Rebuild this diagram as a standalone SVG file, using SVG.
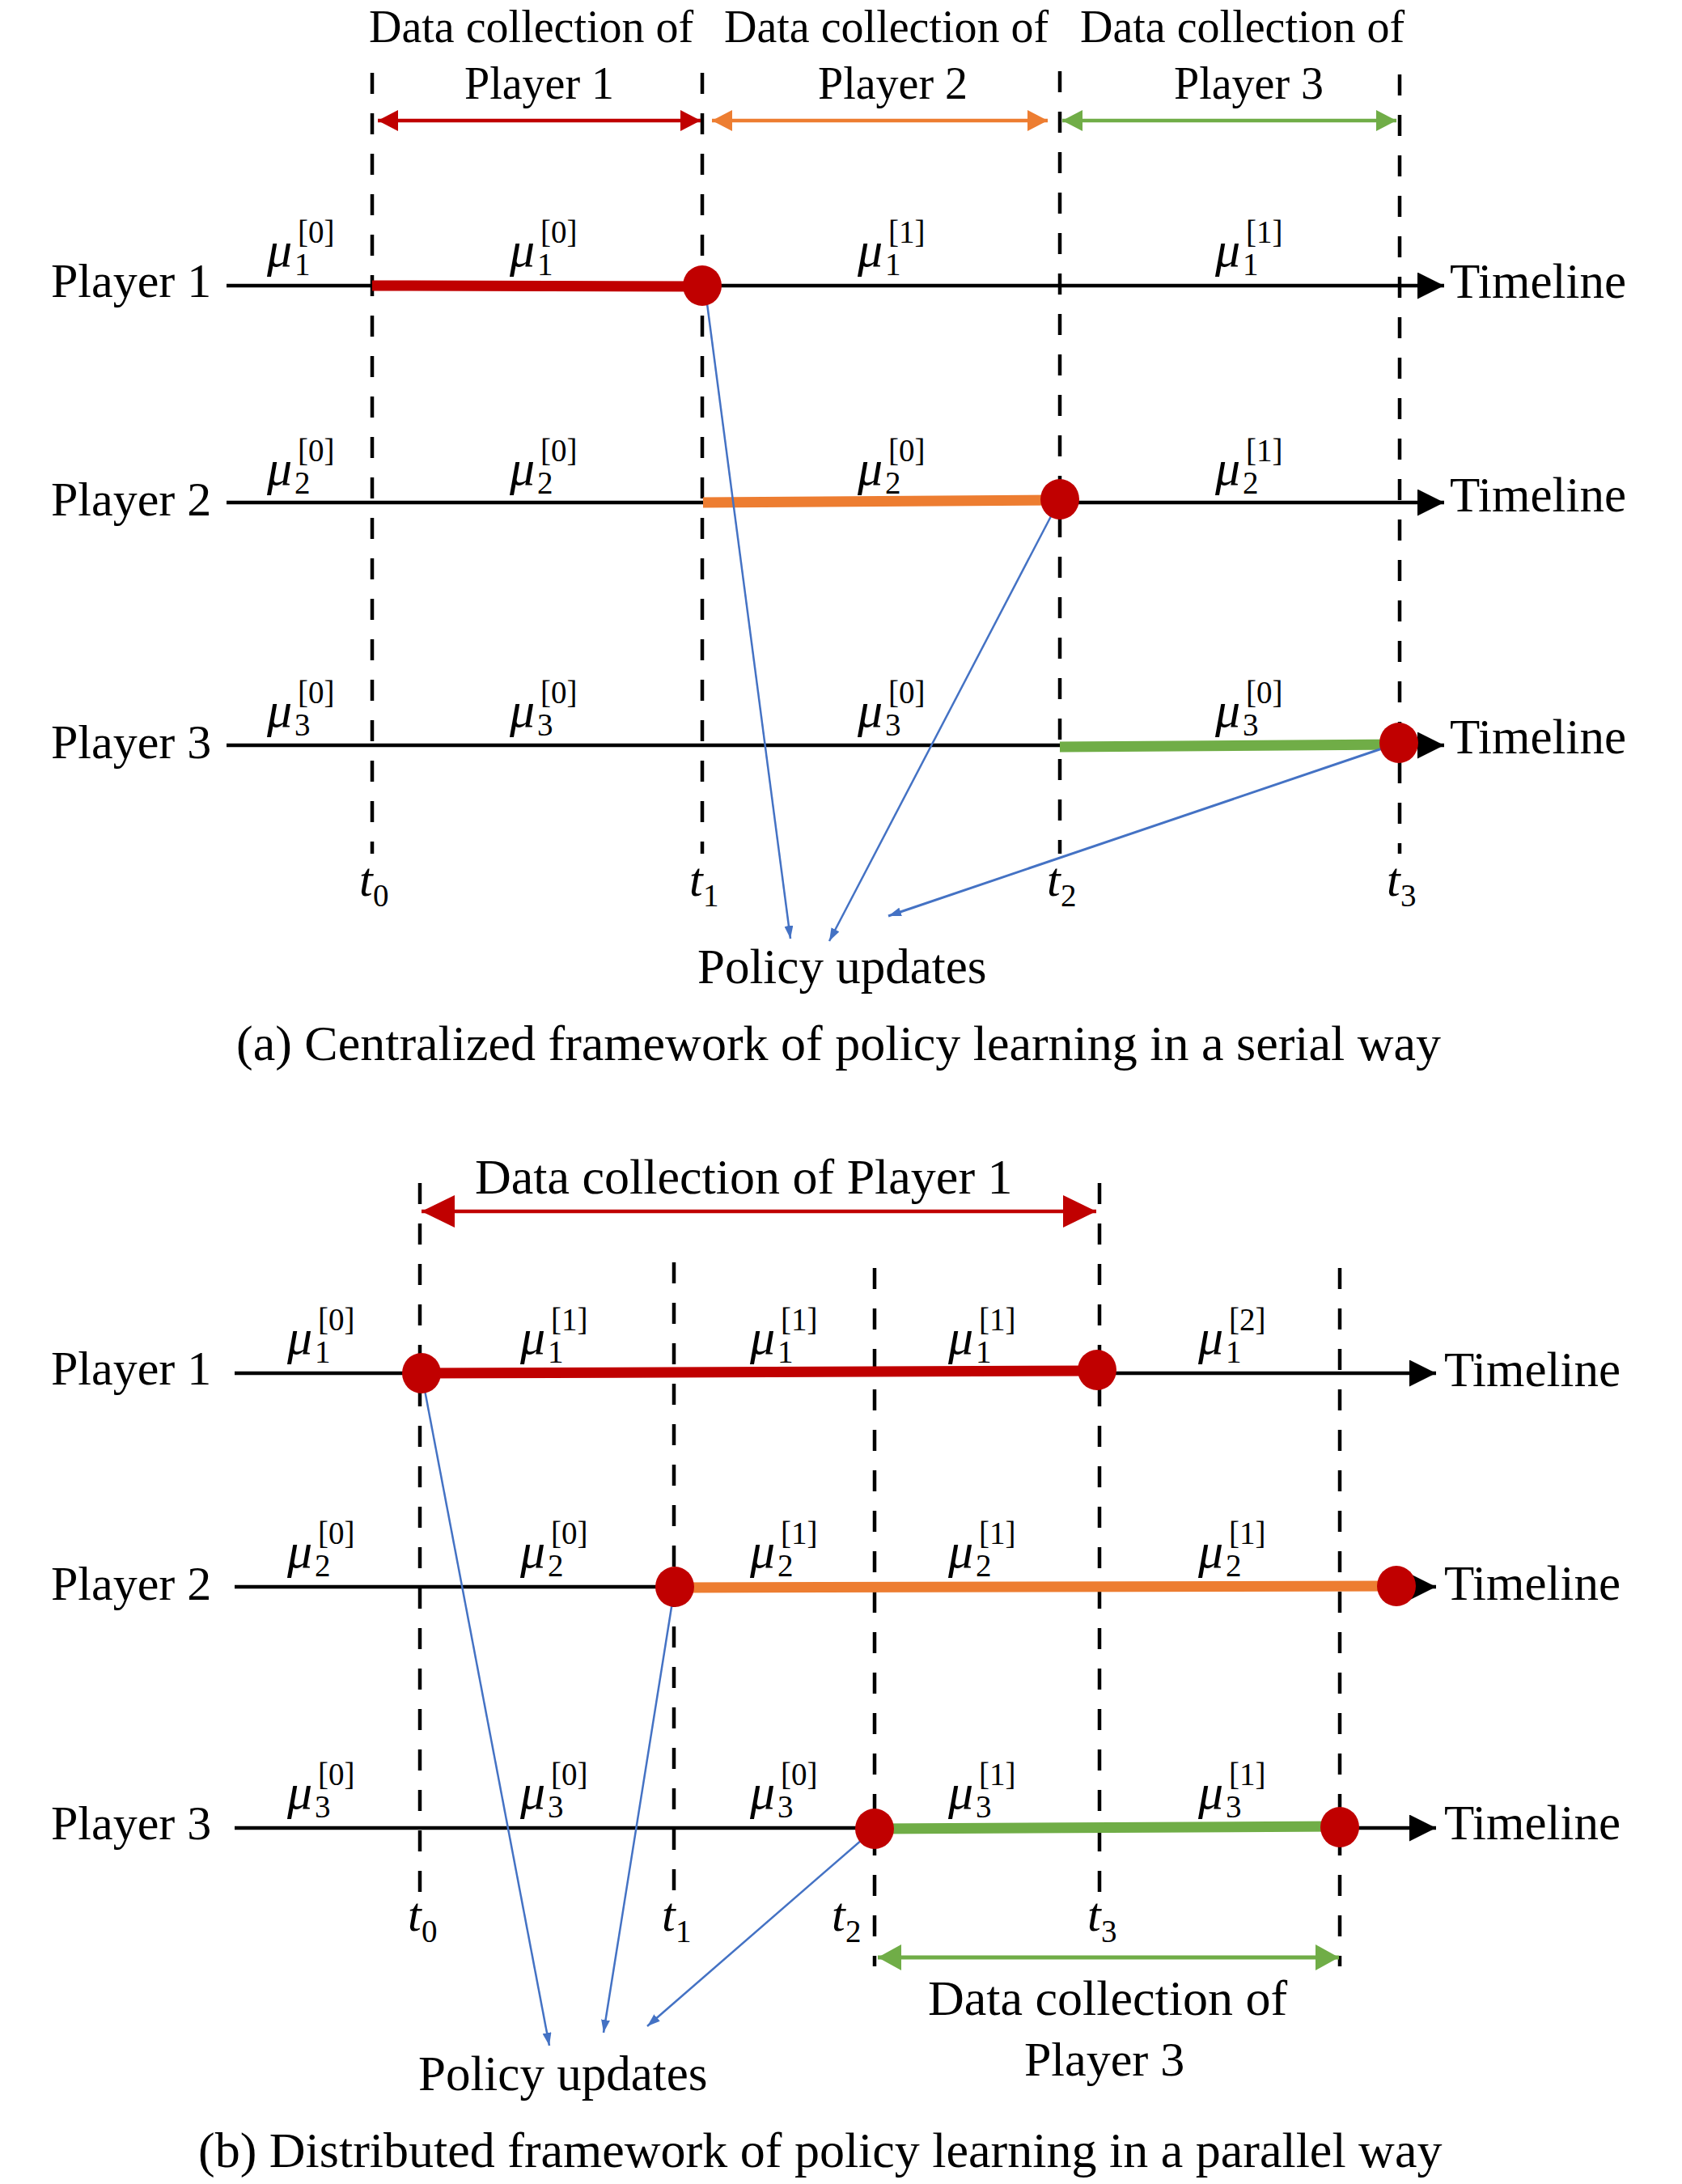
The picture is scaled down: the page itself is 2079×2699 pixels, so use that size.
<svg xmlns="http://www.w3.org/2000/svg" width="2079" height="2699" viewBox="0 0 2079 2699">
<style>
text{font-family:"Liberation Serif","Times New Roman",serif;fill:#000}
.hd{font-size:56px}
.hb{font-size:62px}
.pl{font-size:60px}
.tl{font-size:61px}
.cap{font-size:62px}
.mu{font-size:62px;font-style:italic}
.ti{font-size:60px;font-style:italic}
.ss{font-size:39px}
.dash{stroke:#000;stroke-width:4.5;stroke-dasharray:26 24;fill:none}
.axis{stroke:#000;stroke-width:4.5;fill:none}
.thk{stroke-width:13;fill:none}
.blue{stroke:#4472C4;stroke-width:2.5;fill:none;marker-end:url(#mb)}
.dot{fill:#C00000}
</style>
<defs>
<marker id="mk" markerUnits="userSpaceOnUse" viewBox="0 0 33 33" refX="33" refY="16.5" markerWidth="33" markerHeight="33" orient="auto"><path d="M0,0L33,16.5L0,33z" fill="#000"/></marker>
<marker id="mr" markerUnits="userSpaceOnUse" viewBox="0 0 25 26" refX="25" refY="13" markerWidth="25" markerHeight="26" orient="auto-start-reverse"><path d="M0,0L25,13L0,26z" fill="#C00000"/></marker>
<marker id="mo" markerUnits="userSpaceOnUse" viewBox="0 0 25 26" refX="25" refY="13" markerWidth="25" markerHeight="26" orient="auto-start-reverse"><path d="M0,0L25,13L0,26z" fill="#ED7D31"/></marker>
<marker id="mg" markerUnits="userSpaceOnUse" viewBox="0 0 25 26" refX="25" refY="13" markerWidth="25" markerHeight="26" orient="auto-start-reverse"><path d="M0,0L25,13L0,26z" fill="#70AD47"/></marker>
<marker id="mR" markerUnits="userSpaceOnUse" viewBox="0 0 41 40" refX="41" refY="20" markerWidth="41" markerHeight="40" orient="auto-start-reverse"><path d="M0,0L41,20L0,40z" fill="#C00000"/></marker>
<marker id="mG" markerUnits="userSpaceOnUse" viewBox="0 0 29 32" refX="29" refY="16" markerWidth="29" markerHeight="32" orient="auto-start-reverse"><path d="M0,0L29,16L0,32z" fill="#70AD47"/></marker>
<marker id="mb" markerUnits="userSpaceOnUse" viewBox="0 0 16 11" refX="16" refY="5.5" markerWidth="16" markerHeight="11" orient="auto"><path d="M0,0L16,5.5L0,11z" fill="#4472C4"/></marker>
</defs>
<rect width="2079" height="2699" fill="#fff"/>

<!-- ================= (a) ================= -->
<g id="a-grid">
<line class="dash" x1="460" y1="90" x2="460" y2="1055"/>
<line class="dash" x1="868" y1="90" x2="868" y2="1055"/>
<line class="dash" x1="1310" y1="88" x2="1310" y2="1055"/>
<line class="dash" x1="1730" y1="92" x2="1730" y2="1055"/>
</g>
<g id="a-headers">
<text class="hd" x="456" y="52">Data collection of</text>
<text class="hd" x="574" y="122">Player 1</text>
<text class="hd" x="895" y="52">Data collection of</text>
<text class="hd" x="1011" y="122">Player 2</text>
<text class="hd" x="1335" y="52">Data collection of</text>
<text class="hd" x="1451" y="122">Player 3</text>
<line x1="467" y1="149" x2="866" y2="149" stroke="#C00000" stroke-width="4.5" marker-start="url(#mr)" marker-end="url(#mr)"/>
<line x1="880" y1="149" x2="1295" y2="149" stroke="#ED7D31" stroke-width="4.5" marker-start="url(#mo)" marker-end="url(#mo)"/>
<line x1="1313" y1="149" x2="1726" y2="149" stroke="#70AD47" stroke-width="4.5" marker-start="url(#mg)" marker-end="url(#mg)"/>
</g>
<g id="a-player1">
<text class="pl" x="63" y="367">Player 1</text>
<line class="axis" x1="280" y1="353" x2="1785" y2="353" marker-end="url(#mk)"/>
<line class="thk" stroke="#C00000" x1="460" y1="353" x2="868" y2="354"/>
<text class="tl" x="1792" y="368">Timeline</text>
</g>
<g id="a-player2">
<text class="pl" x="63" y="637">Player 2</text>
<line class="axis" x1="280" y1="621" x2="1785" y2="621" marker-end="url(#mk)"/>
<line class="thk" stroke="#ED7D31" x1="869" y1="621" x2="1310" y2="618"/>
<text class="tl" x="1792" y="632">Timeline</text>
</g>
<g id="a-player3">
<text class="pl" x="63" y="937">Player 3</text>
<line class="axis" x1="280" y1="921" x2="1785" y2="921" marker-end="url(#mk)"/>
<line class="thk" stroke="#70AD47" x1="1310" y1="923" x2="1729" y2="920"/>
<text class="tl" x="1792" y="931">Timeline</text>
</g>
<g id="a-mu">
<text class="mu" x="330" y="329">μ</text><text class="ss" x="364" y="340">1</text><text class="ss" x="368" y="300">[0]</text>
<text class="mu" x="630" y="329">μ</text><text class="ss" x="664" y="340">1</text><text class="ss" x="668" y="300">[0]</text>
<text class="mu" x="1060" y="329">μ</text><text class="ss" x="1094" y="340">1</text><text class="ss" x="1098" y="300">[1]</text>
<text class="mu" x="1502" y="329">μ</text><text class="ss" x="1536" y="340">1</text><text class="ss" x="1540" y="300">[1]</text>

<text class="mu" x="330" y="599">μ</text><text class="ss" x="364" y="610">2</text><text class="ss" x="368" y="570">[0]</text>
<text class="mu" x="630" y="599">μ</text><text class="ss" x="664" y="610">2</text><text class="ss" x="668" y="570">[0]</text>
<text class="mu" x="1060" y="599">μ</text><text class="ss" x="1094" y="610">2</text><text class="ss" x="1098" y="570">[0]</text>
<text class="mu" x="1502" y="599">μ</text><text class="ss" x="1536" y="610">2</text><text class="ss" x="1540" y="570">[1]</text>

<text class="mu" x="330" y="898">μ</text><text class="ss" x="364" y="909">3</text><text class="ss" x="368" y="869">[0]</text>
<text class="mu" x="630" y="898">μ</text><text class="ss" x="664" y="909">3</text><text class="ss" x="668" y="869">[0]</text>
<text class="mu" x="1060" y="898">μ</text><text class="ss" x="1094" y="909">3</text><text class="ss" x="1098" y="869">[0]</text>
<text class="mu" x="1502" y="898">μ</text><text class="ss" x="1536" y="909">3</text><text class="ss" x="1540" y="869">[0]</text>
</g>
<g id="a-times">
<text class="ti" x="444" y="1107">t</text><text class="ss" x="461" y="1120">0</text>
<text class="ti" x="852" y="1107">t</text><text class="ss" x="869" y="1120">1</text>
<text class="ti" x="1294" y="1107">t</text><text class="ss" x="1311" y="1120">2</text>
<text class="ti" x="1714" y="1107">t</text><text class="ss" x="1731" y="1120">3</text>
</g>
<g id="a-connectors">
<line class="blue" x1="872" y1="360" x2="977" y2="1160"/>
<line class="blue" x1="1310" y1="617" x2="1025" y2="1163"/>
<line class="blue" style="stroke-width:3" x1="1729" y1="918" x2="1098" y2="1132"/>
</g>
<g id="a-dots">
<ellipse class="dot" cx="868" cy="353" rx="24" ry="25"/>
<ellipse class="dot" cx="1310" cy="617" rx="24" ry="25"/>
<ellipse class="dot" cx="1729" cy="918" rx="24" ry="25"/>
</g>
<g id="a-labels">
<text class="tl" x="862" y="1215">Policy updates</text>
<text class="cap" x="292" y="1310">(a) Centralized framework of policy learning in a serial way</text>
</g>

<!-- ================= (b) ================= -->
<g id="b-grid">
<line class="dash" x1="519" y1="1462" x2="519" y2="2340"/>
<line class="dash" x1="833" y1="1560" x2="833" y2="2340"/>
<line class="dash" x1="1081" y1="1567" x2="1081" y2="2430"/>
<line class="dash" x1="1359" y1="1462" x2="1359" y2="2340"/>
<line class="dash" x1="1656" y1="1567" x2="1656" y2="2430"/>
</g>
<g id="b-header">
<text class="hb" x="587" y="1475">Data collection of Player 1</text>
<line x1="521" y1="1497" x2="1355" y2="1497" stroke="#C00000" stroke-width="4.5" marker-start="url(#mR)" marker-end="url(#mR)"/>
</g>
<g id="b-player1">
<text class="pl" x="63" y="1711">Player 1</text>
<line class="axis" x1="290" y1="1697" x2="1775" y2="1697" marker-end="url(#mk)"/>
<line class="thk" stroke="#C00000" x1="521" y1="1697" x2="1356" y2="1694"/>
<text class="tl" x="1785" y="1713">Timeline</text>
</g>
<g id="b-player2">
<text class="pl" x="63" y="1977">Player 2</text>
<line class="axis" x1="290" y1="1961" x2="1775" y2="1961" marker-end="url(#mk)"/>
<line class="thk" stroke="#ED7D31" x1="834" y1="1962" x2="1726" y2="1960"/>
<text class="tl" x="1785" y="1977">Timeline</text>
</g>
<g id="b-player3">
<text class="pl" x="63" y="2273">Player 3</text>
<line class="axis" x1="290" y1="2259" x2="1775" y2="2259" marker-end="url(#mk)"/>
<line class="thk" stroke="#70AD47" x1="1081" y1="2260" x2="1656" y2="2257"/>
<text class="tl" x="1785" y="2273">Timeline</text>
</g>
<g id="b-mu">
<text class="mu" x="355" y="1673">μ</text><text class="ss" x="389" y="1684">1</text><text class="ss" x="393" y="1644">[0]</text>
<text class="mu" x="643" y="1673">μ</text><text class="ss" x="677" y="1684">1</text><text class="ss" x="681" y="1644">[1]</text>
<text class="mu" x="927" y="1673">μ</text><text class="ss" x="961" y="1684">1</text><text class="ss" x="965" y="1644">[1]</text>
<text class="mu" x="1172" y="1673">μ</text><text class="ss" x="1206" y="1684">1</text><text class="ss" x="1210" y="1644">[1]</text>
<text class="mu" x="1481" y="1673">μ</text><text class="ss" x="1515" y="1684">1</text><text class="ss" x="1519" y="1644">[2]</text>

<text class="mu" x="355" y="1937">μ</text><text class="ss" x="389" y="1948">2</text><text class="ss" x="393" y="1908">[0]</text>
<text class="mu" x="643" y="1937">μ</text><text class="ss" x="677" y="1948">2</text><text class="ss" x="681" y="1908">[0]</text>
<text class="mu" x="927" y="1937">μ</text><text class="ss" x="961" y="1948">2</text><text class="ss" x="965" y="1908">[1]</text>
<text class="mu" x="1172" y="1937">μ</text><text class="ss" x="1206" y="1948">2</text><text class="ss" x="1210" y="1908">[1]</text>
<text class="mu" x="1481" y="1937">μ</text><text class="ss" x="1515" y="1948">2</text><text class="ss" x="1519" y="1908">[1]</text>

<text class="mu" x="355" y="2235">μ</text><text class="ss" x="389" y="2246">3</text><text class="ss" x="393" y="2206">[0]</text>
<text class="mu" x="643" y="2235">μ</text><text class="ss" x="677" y="2246">3</text><text class="ss" x="681" y="2206">[0]</text>
<text class="mu" x="927" y="2235">μ</text><text class="ss" x="961" y="2246">3</text><text class="ss" x="965" y="2206">[0]</text>
<text class="mu" x="1172" y="2235">μ</text><text class="ss" x="1206" y="2246">3</text><text class="ss" x="1210" y="2206">[1]</text>
<text class="mu" x="1481" y="2235">μ</text><text class="ss" x="1515" y="2246">3</text><text class="ss" x="1519" y="2206">[1]</text>
</g>
<g id="b-times">
<text class="ti" x="504" y="2386">t</text><text class="ss" x="521" y="2400">0</text>
<text class="ti" x="818" y="2386">t</text><text class="ss" x="835" y="2400">1</text>
<text class="ti" x="1028" y="2386">t</text><text class="ss" x="1045" y="2400">2</text>
<text class="ti" x="1344" y="2386">t</text><text class="ss" x="1361" y="2400">3</text>
</g>
<g id="b-connectors">
<line class="blue" x1="521" y1="1697" x2="679" y2="2528"/>
<line class="blue" x1="834" y1="1961" x2="746" y2="2512"/>
<line class="blue" x1="1081" y1="2260" x2="800" y2="2504"/>
</g>
<g id="b-dots">
<ellipse class="dot" cx="521" cy="1697" rx="24" ry="25"/>
<ellipse class="dot" cx="1356" cy="1693" rx="24" ry="25"/>
<ellipse class="dot" cx="834" cy="1961" rx="24" ry="25"/>
<ellipse class="dot" cx="1726" cy="1960" rx="24" ry="25"/>
<ellipse class="dot" cx="1081" cy="2260" rx="24" ry="25"/>
<ellipse class="dot" cx="1656" cy="2258" rx="24" ry="25"/>
</g>
<g id="b-footer">
<line x1="1085" y1="2419" x2="1655" y2="2419" stroke="#70AD47" stroke-width="5" marker-start="url(#mG)" marker-end="url(#mG)"/>
<text class="hb" x="1147" y="2490">Data collection of</text>
<text class="pl" x="1266" y="2565">Player 3</text>
<text class="tl" x="517" y="2583">Policy updates</text>
<text class="cap" x="245" y="2678">(b) Distributed framework of policy learning in a parallel way</text>
</g>
</svg>
